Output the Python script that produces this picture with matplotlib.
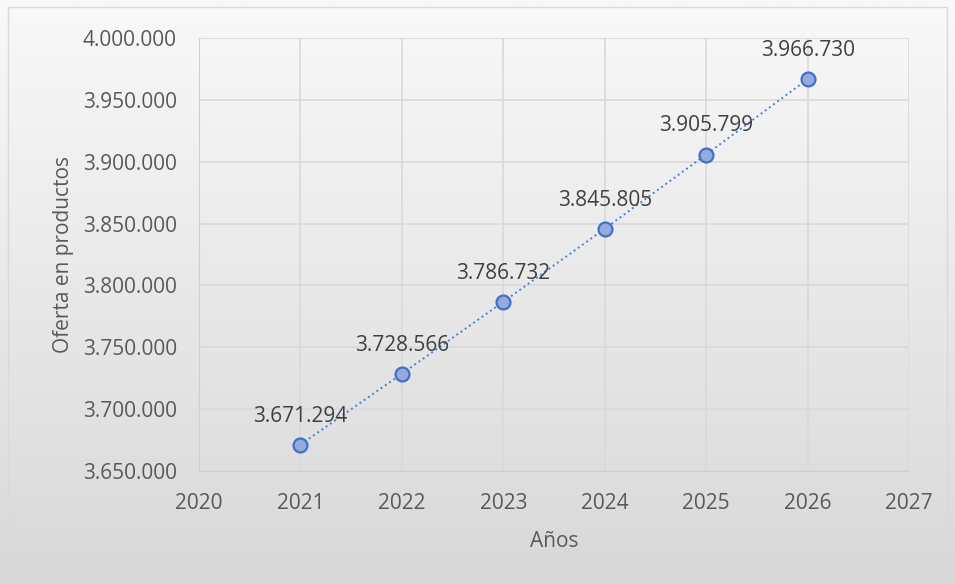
import numpy as np
import matplotlib.pyplot as plt
from matplotlib.colors import LinearSegmentedColormap
from matplotlib.patches import Rectangle
from matplotlib.ticker import FuncFormatter

years = [2021, 2022, 2023, 2024, 2025, 2026]
oferta = [3671294, 3728566, 3786732, 3845805, 3905799, 3966730]

plt.rcParams['font.family'] = ['Open Sans', 'DejaVu Sans']

fig = plt.figure(figsize=(9.55, 5.84), dpi=100)

# fondo degradado
bg = fig.add_axes([0, 0, 1, 1], zorder=-10)
grad = np.linspace(0, 1, 256).reshape(-1, 1)
bg.imshow(grad, aspect='auto', cmap=LinearSegmentedColormap.from_list('g', ['#f9f9f9', '#d8d8d8']),
          extent=[0, 1, 0, 1], origin='upper')
bg.set_xlim(0, 1)
bg.set_ylim(0, 1)
bg.axis('off')
bg.add_patch(Rectangle((8 / 955, 7 / 584), 939 / 955, 570 / 584, fill=False,
                       edgecolor='#d9d9d9', lw=1))

ax = fig.add_axes([199 / 955, 1 - 471 / 584, 710 / 955, 433 / 584])
ax.patch.set_alpha(0)
ax.plot(years, oferta, ls=':', color='#4a7fd6', lw=1.4, marker='o', ms=10,
        markerfacecolor='#95abde', markeredgecolor='#4070c8', markeredgewidth=1.6)

for x, y in zip(years, oferta):
    ax.annotate(f'{y:,}'.replace(',', '.'), (x, y), xytext=(0, 13),
                textcoords='offset points', ha='center', va='bottom',
                fontsize=15, color='#404040')

ax.set_xlim(2020, 2027)
ax.set_ylim(3650000, 4000000)
ax.set_yticks(np.arange(3650000, 4000001, 50000))
ax.yaxis.set_major_formatter(FuncFormatter(lambda v, p: f'{int(v):,}'.replace(',', '.')))
ax.grid(True, color='#d9d9d9', lw=1.2)
ax.set_axisbelow(True)
for s in ['top', 'right']:
    ax.spines[s].set_visible(False)
for s in ['left', 'bottom']:
    ax.spines[s].set_color('#cfcfcf')
ax.tick_params(length=0, labelsize=15, labelcolor='#595959')
ax.tick_params(axis='x', pad=16)
ax.tick_params(axis='y', pad=16)
ax.set_xlabel('Años', fontsize=15, color='#595959', labelpad=12)
ax.set_ylabel('Oferta en productos', fontsize=15, color='#595959', labelpad=6)

fig.savefig('out.png', dpi=100)
